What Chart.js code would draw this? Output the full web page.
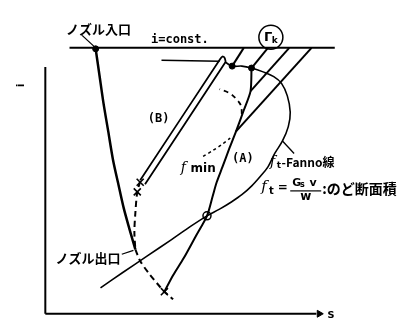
<!DOCTYPE html>
<html>
<head>
<meta charset="utf-8">
<script src="https://cdn.jsdelivr.net/npm/chart.js@4/dist/chart.umd.min.js"></script>
<style>
  body { margin: 0; background: #fff; }
  canvas { display: block; }
</style>
</head>
<body>
<canvas id="js--chart--is" width="413" height="329"></canvas>
<script>
// i-s diagram, nozzle flow with Fanno line. points are [s, i]
const nozzleCurve = [[52,276],[56,248],[60,220],[65,190],[70,160],[75,137],[81,110],[87,88],[93,67]];
const exitTail = [[93,67],[98,55],[107,42],[116,31],[123,23],[132,15]];
const branchB_tail = [[98,138],[95,127],[93,105],[92,85],[93,67]];
const branchB = [[98,139],[181,266],[183,268],[185,267],[186,264],[186,262],[103,135]];
const feedLine = [[120,264],[180,263]];
const fannoLine = [[186,262],[193,258],[203,258],[213,256],[225,252],[236,247],[244,240],[250,227],[253,210],[251,195],[245,180],[237,167],[230,153],[222,143],[213,133],[203,124],[193,117],[180,109],[167,102],[150,91],[130,77],[105,60],[80,43],[57,27]];
const curveA = [[213,256],[212,232],[205,212],[197,190],[190,172],[183,153],[177,137],[173,123],[167,102],[155,80],[143,58],[132,40],[123,23]];
const fminLower = [[163,164],[173,170],[182,176],[191,183]];
const fminUpper = [[203,208],[202,217],[197,224],[190,230],[180,234]];
const constLines = [
    [[205,277],[193,258]],
    [[230,277],[213,256]],
    [[252,277],[212,232]],
    [[275,277],[197,190]]
];
const iConst = [[25,277],[299,277]];
const sAxis = [[0,0],[280,0]];
const iAxis = [[0,0],[0,257]];
const dots = [[52,276],[193,258],[213,256]];
const openDots = [[167,102]];
const crosses = [[98,137],[95,127],[123,23]];
const pointers = [
    [[38,290],[52,277]],
    [[79,62],[91,66]],
    [[245,180],[257,167]]
];

const xy = pts => pts.map(p => ({x: p[0], y: p[1]}));

function line(pts, extra) {
    return Object.assign({
        data: xy(pts),
        showLine: true,
        borderColor: "#000",
        backgroundColor: "#000",
        borderWidth: 2,
        pointRadius: 0,
        tension: 0
    }, extra || {});
}

const datasets = [
    line(sAxis, {borderWidth: 2}),
    line(iAxis, {borderWidth: 2}),
    line(iConst, {borderWidth: 2}),
    line(nozzleCurve, {borderWidth: 2.5, tension: 0.3}),
    line(exitTail, {borderDash: [6, 4], borderWidth: 2, tension: 0.3}),
    line(branchB_tail, {borderDash: [6, 4], borderWidth: 2, tension: 0.3}),
    line(branchB, {borderWidth: 1.8, tension: 0.15}),
    line(feedLine, {borderWidth: 1.5}),
    line(fannoLine, {borderWidth: 1.6, tension: 0.35}),
    line(curveA, {borderWidth: 2, tension: 0.25}),
    line(fminLower, {borderDash: [3, 3], borderWidth: 1.5, tension: 0.3}),
    line(fminUpper, {borderDash: [5, 4], borderWidth: 1.8, tension: 0.4})
];
constLines.forEach(l => datasets.push(line(l, {borderWidth: 2})));
pointers.forEach(l => datasets.push(line(l, {borderWidth: 1.3})));
datasets.push({data: xy(dots), pointRadius: 3, pointBackgroundColor: "#000", pointBorderColor: "#000", showLine: false});
datasets.push({data: xy(openDots), pointRadius: 4, pointBackgroundColor: "#fff", pointBorderColor: "#000", pointBorderWidth: 1.5, showLine: false});
datasets.push({data: xy(crosses), pointStyle: "crossRot", pointRadius: 5, pointBorderColor: "#000", pointBorderWidth: 1.6, showLine: false});
datasets.push({data: [{x: 283, y: 0}], pointStyle: "triangle", rotation: 90, pointRadius: 4, pointBackgroundColor: "#000", pointBorderColor: "#000", showLine: false});

// labels drawn on top, positions in s-i units
const labelPlugin = {
    id: "labels",
    afterDatasetsDraw(chart) {
        const ctx = chart.ctx;
        const X = v => chart.scales.x.getPixelForValue(v);
        const Y = v => chart.scales.y.getPixelForValue(v);
        const jp = "bold 13px 'Noto Sans CJK JP'";
        ctx.save();
        ctx.fillStyle = "#000";
        ctx.strokeStyle = "#000";
        ctx.textBaseline = "middle";

        function txt(t, s, i, font, align) {
            ctx.font = font;
            ctx.textAlign = align || "left";
            ctx.fillText(t, X(s), Y(i));
        }

        txt("ノズル入口", 55, 297, jp, "center");
        txt("ノズル出口", 44, 58, jp, "center");
        txt("i=const.", 139, 285, "bold 12px 'DejaVu Sans Mono'", "center");
        txt("(B)", 117, 203, "bold 12px 'DejaVu Sans Mono'", "center");
        txt("(A)", 204, 161, "bold 12px 'DejaVu Sans Mono'", "center");
        txt("f", 140, 152, "italic 14px 'DejaVu Serif'");
        txt("min", 150, 151, "bold 12px 'DejaVu Sans'");
        txt("s", 291, -1, "bold 13px 'DejaVu Sans Mono'");

        // circled Γk
        ctx.lineWidth = 1.5;
        ctx.beginPath();
        ctx.arc(X(233), Y(288), 12, 0, Math.PI * 2);
        ctx.stroke();
        txt("Γ", 226, 288, "bold 13px 'DejaVu Sans'");
        txt("k", 234, 285, "bold 9px 'DejaVu Sans'");

        // f_t - Fanno line
        txt("f", 232, 158, "italic 14px 'DejaVu Serif'");
        txt("t", 239, 154, "bold 9px 'DejaVu Sans'");
        txt("-Fanno線", 244, 158, "bold 12px 'Noto Sans CJK JP'");

        // f_t = Gs v / w : throat area
        txt("f", 223, 132, "italic 15px 'DejaVu Serif'");
        txt("t", 231, 127, "bold 10px 'DejaVu Sans'");
        txt("=", 240, 131, "bold 12px 'DejaVu Sans'");
        txt("G", 255, 136, "bold 11px 'DejaVu Sans'");
        txt("s", 263, 134, "bold 8px 'DejaVu Sans'");
        txt("v", 273, 136, "bold 11px 'DejaVu Sans'");
        ctx.lineWidth = 1.2;
        ctx.beginPath();
        ctx.moveTo(X(253), Y(128));
        ctx.lineTo(X(285), Y(128));
        ctx.stroke();
        txt("w", 269, 122, "bold 12px 'DejaVu Sans'", "center");
        txt(":のど断面積", 286, 130, "bold 14px 'Noto Sans CJK JP'");

        // i axis name, turned
        ctx.translate(X(-25), Y(238));
        ctx.rotate(-Math.PI / 2);
        ctx.font = "bold 11px 'DejaVu Sans'";
        ctx.textAlign = "center";
        ctx.fillText("i", 0, 0);
        ctx.restore();
    }
};

const config = {
    type: "scatter",
    data: {datasets: datasets},
    options: {
        responsive: false,
        animation: false,
        devicePixelRatio: 1,
        layout: {padding: 0},
        plugins: {legend: {display: false}, tooltip: {enabled: false}},
        scales: {
            x: {type: "linear", min: -40, max: 373, display: false},
            y: {type: "linear", min: -9, max: 320, display: false}
        }
    },
    plugins: [labelPlugin]
};

new Chart(document.getElementById("js--chart--is"), config);
</script>
</body>
</html>
